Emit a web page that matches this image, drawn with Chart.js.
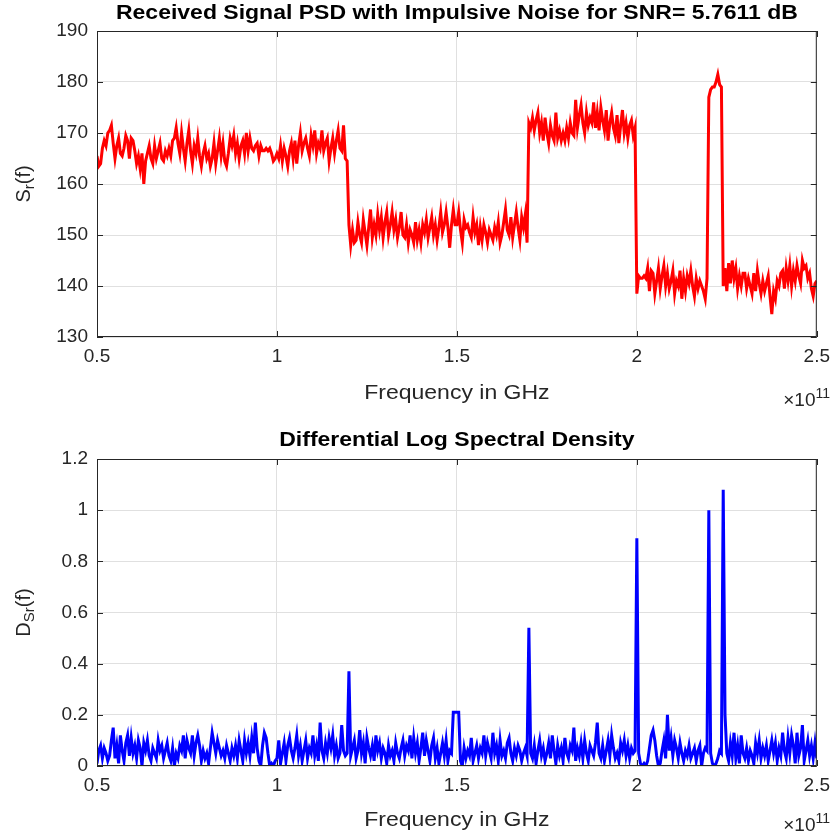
<!DOCTYPE html>
<html>
<head>
<meta charset="utf-8">
<script src="https://cdn.jsdelivr.net/npm/chart.js@4.4.0/dist/chart.umd.min.js"></script>
<style>
  body { margin: 0; background: #ffffff; }
  .panel { width: 838px; height: 420px; }
</style>
</head>
<body>
<div class="panel"><canvas id="psdChart" width="838" height="420"></canvas></div>
<div class="panel"><canvas id="dlsdChart" width="838" height="420"></canvas></div>
<script>
// frequency grid (Hz)
const freqStart = 0.5e11;
const freqStep = 0.005e11;

// received signal PSD, one row per 0.1e11 Hz
const psdValues = [
  165.5, 163.5, 164, 167, 168.5, 167.5, 170, 170.5, 171.5, 168, 165, 167.5, 169, 166, 165.5, 167, 169.5, 168.5, 165, 169,
  168.5, 166.5, 164, 165.5, 163, 166, 160, 164.5, 166, 167.5, 165, 164, 167.5, 165, 166.5, 168, 165, 164.5, 166.5, 165.5,
  167, 165.5, 168.5, 169, 171, 168, 166, 170, 167, 164.5, 168, 170.5, 166.5, 164, 167.5, 166, 169, 165.5, 163.5, 166,
  167.5, 165, 166, 163.5, 165, 168, 164, 166.5, 169, 165.5, 168, 164.5, 163.5, 166, 169, 167.5, 169.5, 166, 168, 165,
  167.5, 168.5, 166, 170, 166.5, 169, 167, 166.5, 167.5, 168, 165.5, 167.5, 166.5, 166.5, 167, 166.5, 167, 166, 164.5, 165,
  166, 165, 167.5, 164.5, 167, 165.5, 163.5, 166.5, 168, 165, 168.5, 164, 167.5, 170, 166.5, 168, 169, 167, 165.5, 169.5,
  167.5, 170.5, 166, 168, 167, 170.5, 166.5, 168, 169, 164.5, 167, 169, 166, 168.5, 170.5, 167, 166.5, 171.5, 165, 164.5,
  152, 148, 151, 148.5, 149, 152.5, 150, 148.5, 153, 150.5, 148, 151.5, 155, 149.5, 152, 150, 154, 151, 153.5, 149.5,
  152.5, 154.5, 150, 152, 154.5, 151, 153, 149.5, 151.5, 154.5, 150, 149.5, 152, 148.5, 151, 150, 148.5, 152.5, 149, 151,
  148.5, 152, 150.5, 153, 149.5, 151.5, 153.5, 150, 152, 149, 151.5, 154.5, 150.5, 152, 154.5, 151.5, 147.5, 152, 155, 152,
  152, 154.5, 151, 148.5, 153, 151.5, 152, 150.5, 149.5, 153.5, 150.5, 152, 148, 151.5, 149, 152, 150.5, 148.5, 151, 150,
  149, 151.5, 150, 152.5, 148.5, 150, 152.5, 155, 151, 150, 153.5, 149.5, 152, 154.5, 151.5, 149, 153.5, 151.5, 154, 148.5,
  172, 171, 173, 170.5, 172.5, 174, 170, 172, 168.5, 173, 170, 168, 171.5, 169.5, 168.5, 174, 169, 170.5, 168.5, 170,
  168.5, 171, 169, 172, 170, 169.5, 176.5, 171, 173.5, 175.5, 172, 170, 174, 171.5, 173, 172, 176, 171, 174, 170.5,
  175, 172.5, 170.5, 174.5, 168.5, 172, 174, 171, 169.5, 173.5, 168, 171.5, 174.5, 170, 172, 169, 171.5, 172.5, 169.5, 171,
  138.5, 142, 141.5, 141.5, 142, 141.5, 143.5, 139, 143, 142.5, 138.5, 141, 143.5, 139.5, 142, 144, 140, 142.5, 139.5, 141,
  143, 138.5, 141, 140, 143, 137.5, 141.5, 139, 142, 140.5, 143, 140, 138, 141.5, 139.5, 141, 140, 139, 137.5, 141.5,
  177, 178.5, 179, 179, 180, 181.5, 179.5, 179, 140, 143.5, 139, 144.5, 140.5, 145, 141.5, 143.5, 139.5, 142, 140, 142.5,
  142.5, 139.5, 141.5, 140, 138.5, 142.5, 139, 143, 140.5, 138.5, 141, 139, 140.5, 142, 138, 134.5, 139, 137.5, 141, 140,
  142.5, 143, 139.5, 143.5, 141, 144, 140, 143, 141, 144, 142, 140.5, 145, 143.5, 144, 141.5, 142.5, 139.5, 138, 140.5,
  141
];

// differential log spectral density, same grid
const dlsdValues = [
  0.01, 0.06, 0.08, 0.03, 0.07, 0.05, 0.02, 0.04, 0.10, 0.15, 0.03, 0.08, 0.01, 0.12, 0.06, 0.02, 0.09, 0.12, 0.04, 0.11,
  0.05, 0.08, 0.03, 0.10, 0.07, 0.00, 0.09, 0.06, 0.10, 0.04, 0.02, 0.07, 0.05, 0.03, 0.10, 0.06, 0.08, 0.03, 0.06, 0.09,
  0.04, 0.02, 0.07, 0.00, 0.05, 0.03, 0.08, 0.06, 0.12, 0.03, 0.10, 0.07, 0.05, 0.12, 0.04, 0.09, 0.12, 0.08, 0.02, 0.06,
  0.03, 0.05, 0.01, 0.07, 0.13, 0.09, 0.05, 0.10, 0.07, 0.04, 0.06, 0.03, 0.08, 0.05, 0.02, 0.07, 0.04, 0.08, 0.03, 0.10,
  0.06, 0.02, 0.10, 0.05, 0.09, 0.04, 0.11, 0.05, 0.17, 0.07, 0.02, 0.00, 0.08, 0.13, 0.11, 0.05, 0.00, 0.01, 0.00, 0.02,
  0.03, 0.10, 0.01, 0.05, 0.09, 0.02, 0.08, 0.11, 0.06, 0.03, 0.07, 0.12, 0.04, 0.08, 0.02, 0.06, 0.10, 0.03, 0.07, 0.05,
  0.12, 0.04, 0.08, 0.02, 0.17, 0.06, 0.03, 0.09, 0.05, 0.11, 0.07, 0.12, 0.04, 0.08, 0.03, 0.05, 0.16, 0.06, 0.04, 0.05,
  0.37, 0.04, 0.07, 0.10, 0.03, 0.06, 0.14, 0.05, 0.09, 0.01, 0.11, 0.07, 0.04, 0.08, 0.02, 0.12, 0.06, 0.09, 0.03, 0.07,
  0.05, 0.01, 0.08, 0.04, 0.06, 0.02, 0.09, 0.05, 0.03, 0.07, 0.10, 0.04, 0.08, 0.06, 0.12, 0.03, 0.11, 0.05, 0.09, 0.02,
  0.07, 0.13, 0.04, 0.10, 0.06, 0.02, 0.08, 0.11, 0.03, 0.07, 0.01, 0.05, 0.09, 0.04, 0.10, 0.02, 0.06, 0.05, 0.21, 0.21,
  0.21, 0.21, 0.02, 0.00, 0.07, 0.03, 0.06, 0.04, 0.11, 0.02, 0.05, 0.08, 0.03, 0.07, 0.05, 0.12, 0.04, 0.09, 0.06, 0.03,
  0.13, 0.05, 0.08, 0.02, 0.10, 0.04, 0.06, 0.03, 0.09, 0.11, 0.05, 0.02, 0.07, 0.04, 0.08, 0.06, 0.02, 0.05, 0.07, 0.04,
  0.54, 0.05, 0.03, 0.08, 0.01, 0.06, 0.10, 0.04, 0.07, 0.02, 0.05, 0.09, 0.03, 0.12, 0.06, 0.01, 0.08, 0.04, 0.07, 0.02,
  0.11, 0.05, 0.03, 0.08, 0.06, 0.15, 0.02, 0.07, 0.04, 0.09, 0.03, 0.10, 0.05, 0.02, 0.08, 0.06, 0.04, 0.09, 0.17, 0.05,
  0.03, 0.08, 0.02, 0.06, 0.10, 0.04, 0.12, 0.07, 0.03, 0.05, 0.02, 0.09, 0.06, 0.10, 0.04, 0.08, 0.03, 0.07, 0.05, 0.06,
  0.89, 0.05, 0.01, 0.00, 0.01, 0.00, 0.02, 0.07, 0.12, 0.14, 0.10, 0.04, 0.00, 0.01, 0.06, 0.10, 0.03, 0.20, 0.06, 0.11,
  0.04, 0.10, 0.07, 0.03, 0.09, 0.05, 0.02, 0.06, 0.04, 0.08, 0.03, 0.05, 0.07, 0.02, 0.06, 0.08, 0.00, 0.05, 0.07, 0.06,
  1.00, 0.05, 0.01, 0.00, 0.01, 0.03, 0.06, 0.05, 1.08, 0.20, 0.05, 0.02, 0.09, 0.04, 0.13, 0.03, 0.08, 0.01, 0.12, 0.05,
  0.03, 0.07, 0.02, 0.06, 0.04, 0.01, 0.09, 0.05, 0.10, 0.03, 0.07, 0.04, 0.08, 0.02, 0.06, 0.10, 0.05, 0.09, 0.02, 0.07,
  0.04, 0.13, 0.06, 0.03, 0.11, 0.05, 0.12, 0.08, 0.01, 0.13, 0.04, 0.07, 0.16, 0.02, 0.06, 0.10, 0.04, 0.08, 0.03, 0.09,
  0.03
];

const freqHz = psdValues.map((_, i) => freqStart + i * freqStep);

const axisColor = '#262626';
const gridColor = '#e0e0e0';
const fontFamily = '"Liberation Sans", Arial, sans-serif';
const textStretch = 1.15;  // the source figure's text is a bit wide

// draw text stretched horizontally around its centre
function wideText(ctx, text, x, y) {
  ctx.save();
  ctx.translate(x, y);
  ctx.scale(textStretch, 1);
  ctx.fillText(text, 0, 0);
  ctx.restore();
}

// MATLAB-like box, inward ticks, titles and labels
const matlabFrame = {
  id: 'matlabFrame',
  afterDraw(chart, args, opts) {
    const { ctx, chartArea: a, scales } = chart;
    ctx.save();
    ctx.strokeStyle = axisColor;
    ctx.lineWidth = 1;
    ctx.strokeRect(a.left + 0.5, a.top + 0.5, a.right - a.left - 1, a.bottom - a.top - 1);

    ctx.beginPath();
    scales.x.ticks.forEach(t => {
      const px = Math.round(scales.x.getPixelForValue(t.value)) + 0.5;
      ctx.moveTo(px, a.bottom); ctx.lineTo(px, a.bottom - 6);
      ctx.moveTo(px, a.top); ctx.lineTo(px, a.top + 6);
    });
    scales.y.ticks.forEach(t => {
      const py = Math.round(scales.y.getPixelForValue(t.value)) + 0.5;
      ctx.moveTo(a.left, py); ctx.lineTo(a.left + 6, py);
      ctx.moveTo(a.right, py); ctx.lineTo(a.right - 6, py);
    });
    ctx.stroke();

    const cx = (a.left + a.right) / 2;
    ctx.textAlign = 'center';
    ctx.textBaseline = 'middle';

    // title
    ctx.fillStyle = '#000000';
    ctx.font = 'bold 20px ' + fontFamily;
    wideText(ctx, opts.title, cx, opts.titleY);

    // x label
    ctx.fillStyle = axisColor;
    ctx.font = '20px ' + fontFamily;
    wideText(ctx, opts.xLabel, cx, opts.xLabelY);

    // x10^11 exponent
    ctx.textAlign = 'right';
    ctx.font = '14px ' + fontFamily;
    ctx.fillText('11', 830, opts.expY - 7);
    const supW = ctx.measureText('11').width;
    ctx.font = '19px ' + fontFamily;
    ctx.fillText('\u00d710', 830 - supW, opts.expY);

    // y label with subscript, rotated
    ctx.translate(opts.yLabelX, (a.top + a.bottom) / 2);
    ctx.rotate(-Math.PI / 2);
    ctx.textAlign = 'left';
    const mainFont = '20px ' + fontFamily;
    const subFont = '15px ' + fontFamily;
    ctx.font = mainFont;
    const w1 = ctx.measureText(opts.yMain).width;
    const w3 = ctx.measureText('(f)').width;
    ctx.font = subFont;
    const w2 = ctx.measureText(opts.ySub).width;
    let x = -(w1 + w2 + w3) / 2;
    ctx.font = mainFont;
    ctx.fillText(opts.yMain, x, 0);
    x += w1;
    ctx.font = subFont;
    ctx.fillText(opts.ySub, x, 6);
    x += w2;
    ctx.font = mainFont;
    ctx.fillText('(f)', x, 0);
    ctx.restore();
  }
};

function makeChart(canvasId, values, color, cfg) {
  const ctx = document.getElementById(canvasId).getContext('2d');
  return new Chart(ctx, {
    type: 'line',
    data: {
      datasets: [{
        data: freqHz.map((f, i) => ({ x: f, y: values[i] })),
        borderColor: color,
        borderWidth: 3,
        pointRadius: 0,
        tension: 0,
        fill: false
      }]
    },
    options: {
      responsive: false,
      animation: false,
      layout: { padding: { top: cfg.padTop, right: 18, left: 0, bottom: 0 } },
      plugins: {
        legend: { display: false },
        tooltip: { enabled: false },
        matlabFrame: cfg.frame
      },
      scales: {
        x: {
          type: 'linear',
          min: 0.5e11,
          max: 2.5e11,
          ticks: {
            stepSize: 0.5e11,
            color: axisColor,
            font: { family: fontFamily, size: 19 },
            padding: 8,
            maxRotation: 0,
            callback: v => String(Math.round(v / 1e10) / 10)
          },
          grid: { color: gridColor, drawTicks: false },
          border: { display: false },
          afterFit: s => { s.height = cfg.xHeight; }
        },
        y: {
          min: cfg.yMin,
          max: cfg.yMax,
          ticks: {
            stepSize: cfg.yStep,
            color: axisColor,
            font: { family: fontFamily, size: 19 },
            padding: 9,
            callback: v => String(Math.round(v * 10) / 10)
          },
          grid: { color: gridColor, drawTicks: false },
          border: { display: false },
          afterFit: s => { s.width = 97; }
        }
      }
    },
    plugins: [matlabFrame]
  });
}

makeChart('psdChart', psdValues, '#ff0000', {
  padTop: 31, xHeight: 83, yMin: 130, yMax: 190, yStep: 10,
  frame: {
    title: 'Received Signal PSD with Impulsive Noise for SNR= 5.7611 dB',
    titleY: 13, xLabel: 'Frequency in GHz', xLabelY: 393, expY: 401,
    yLabelX: 24, yMain: 'S', ySub: 'r'
  }
});

makeChart('dlsdChart', dlsdValues, '#0000ff', {
  padTop: 39, xHeight: 74, yMin: 0, yMax: 1.2, yStep: 0.2,
  frame: {
    title: 'Differential Log Spectral Density',
    titleY: 20, xLabel: 'Frequency in GHz', xLabelY: 400, expY: 406,
    yLabelX: 24, yMain: 'D', ySub: 'Sr'
  }
});
</script>
</body>
</html>
